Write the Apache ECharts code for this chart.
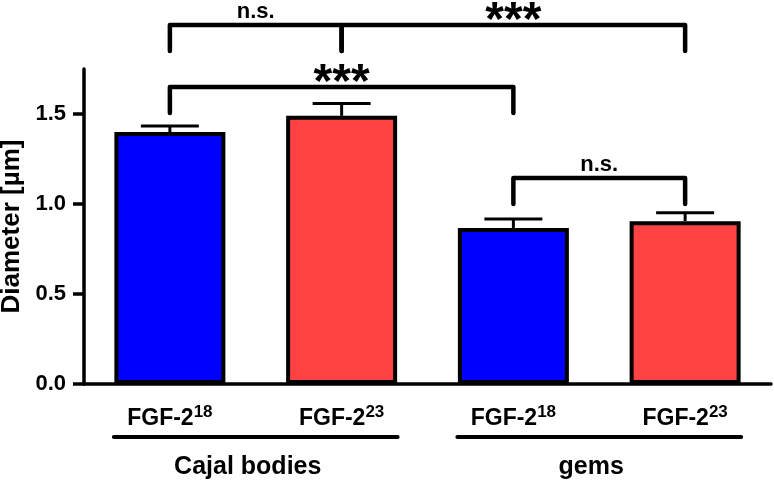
<!DOCTYPE html>
<html>
<head>
<meta charset="utf-8">
<script src="https://cdn.jsdelivr.net/npm/echarts@6/dist/echarts.min.js"></script>
<style>
  html, body { margin: 0; padding: 0; background: #fff; }
  #chart { width: 774px; height: 480px; }
</style>
</head>
<body>
<div id="chart"></div>
<script>
// values
const categories = ['18', '23', '18', '23'] // FGF-2 isoform superscripts
const diameter = [1.40, 1.49, 0.867, 0.904]
const errTop = [1.433, 1.559, 0.917, 0.952]
const barColors = ['#0000FF', '#FC4242', '#0000FF', '#FC4242']

const groupNames = ['Cajal bodies', 'gems']
const groupStart = [0, 2]
const groupEnd = [1, 3]

// significance brackets: from category, to category, height, label
const bracketFrom = [0, 1, 0, 2]
const bracketTo = [1, 3, 2, 3]
const bracketLevel = [1.995, 1.995, 1.65, 1.145]
const bracketLabels = ['n.s.', '***', '***', 'n.s.']

const yTicks = [0, 0.5, 1.0, 1.5]

const FONT = '"Liberation Sans", Arial, sans-serif'
const BAR_W = 111

const chart = echarts.init(document.getElementById('chart'))

chart.setOption({
  animation: false,
  grid: { left: 84, right: 3, top: 69, bottom: 96, containLabel: false, outerBoundsMode: 'none' },
  xAxis: {
    type: 'category',
    data: categories,
    axisLine: { lineStyle: { color: '#000', width: 3.5 } },
    axisTick: { alignWithLabel: true, length: 9, lineStyle: { color: '#000', width: 3.5 } },
    axisLabel: {
      margin: 20,
      formatter: v => '{b|FGF-2}{sup|' + v + '}',
      rich: {
        b: { fontFamily: FONT, fontWeight: 'bold', fontSize: 23, color: '#000', lineHeight: 30 },
        sup: { fontFamily: FONT, fontWeight: 'bold', fontSize: 17, color: '#000', verticalAlign: 'top', lineHeight: 14 }
      }
    }
  },
  yAxis: {
    type: 'value',
    min: 0,
    max: 1.75,
    name: 'Diameter [µm]',
    nameLocation: 'middle',
    nameRotate: 90,
    nameGap: 58,
    nameTextStyle: { fontFamily: FONT, fontWeight: 'bold', fontSize: 26, color: '#000' },
    splitLine: { show: false },
    axisLine: { show: true, lineStyle: { color: '#000', width: 3.5 } },
    axisTick: { show: true, length: 11, customValues: yTicks, lineStyle: { color: '#000', width: 3.5 } },
    axisLabel: {
      customValues: yTicks,
      margin: 18,
      formatter: v => v.toFixed(1),
      fontFamily: FONT, fontWeight: 'bold', fontSize: 22, color: '#000'
    }
  },
  series: [
    {
      type: 'bar',
      barWidth: BAR_W,
      data: diameter.map((v, i) => ({ value: v, itemStyle: { color: barColors[i] } })),
      itemStyle: { borderColor: '#000', borderWidth: 4 },
      z: 2
    },
    {
      // error bars (upper only)
      type: 'custom',
      data: errTop.map((v, i) => [i, v, diameter[i]]),
      encode: { x: 0, y: 1 },
      z: 1,
      renderItem: (params, api) => {
        const top = api.coord([api.value(0), api.value(1)])
        const base = api.coord([api.value(0), api.value(2)])
        const style = { stroke: '#000', lineWidth: 3 }
        return {
          type: 'group',
          children: [
            { type: 'line', shape: { x1: top[0], y1: top[1], x2: base[0], y2: base[1] }, style },
            { type: 'line', shape: { x1: top[0] - 29, y1: top[1], x2: top[0] + 29, y2: top[1] }, style }
          ]
        }
      }
    },
    {
      // significance brackets
      type: 'custom',
      clip: false,
      data: bracketFrom.map((f, i) => [f, bracketTo[i], bracketLevel[i]]),
      encode: { x: [0, 1], y: 2 },
      renderItem: (params, api) => {
        const a = api.coord([api.value(0), api.value(2)])
        const b = api.coord([api.value(1), api.value(2)])
        const drop = 26
        const label = bracketLabels[params.dataIndex]
        const stars = label === '***'
        return {
          type: 'group',
          children: [
            {
              type: 'polyline',
              shape: { points: [[a[0], a[1] + drop], [a[0], a[1]], [b[0], b[1]], [b[0], b[1] + drop]] },
              style: { stroke: '#000', lineWidth: 4.5, fill: null, lineJoin: 'round', lineCap: 'round' }
            },
            {
              type: 'text',
              style: {
                text: label,
                x: (a[0] + b[0]) / 2,
                y: stars ? a[1] - 3 : a[1] - 13,
                align: 'center',
                verticalAlign: 'middle',
                fontFamily: FONT,
                fontWeight: 'bold',
                fontSize: stars ? 48 : 22,
                fill: '#000'
              }
            }
          ]
        }
      }
    },
    {
      // group underlines and names
      type: 'custom',
      clip: false,
      data: groupStart.map((s, i) => [s, groupEnd[i]]),
      encode: { x: [0, 1] },
      renderItem: (params, api) => {
        const a = api.coord([api.value(0), 0])
        const b = api.coord([api.value(1), 0])
        const half = 56
        return {
          type: 'group',
          children: [
            {
              type: 'line',
              shape: { x1: a[0] - half, y1: a[1] + 53, x2: b[0] + half, y2: b[1] + 53 },
              style: { stroke: '#000', lineWidth: 4, lineCap: 'round' }
            },
            {
              type: 'text',
              style: {
                text: groupNames[params.dataIndex],
                x: (a[0] + b[0]) / 2 - 8,
                y: a[1] + 83,
                align: 'center',
                verticalAlign: 'middle',
                fontFamily: FONT,
                fontWeight: 'bold',
                fontSize: 25,
                fill: '#000'
              }
            }
          ]
        }
      }
    }
  ]
})
</script>
</body>
</html>
